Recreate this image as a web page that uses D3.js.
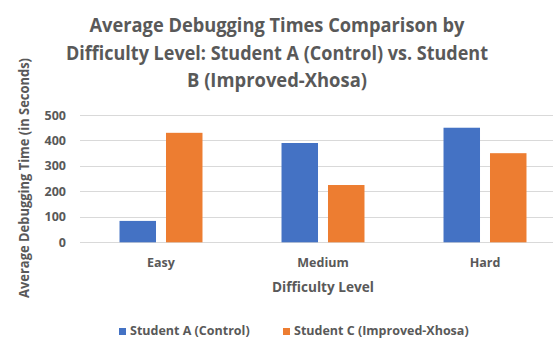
<!DOCTYPE html>
<html><head><meta charset="utf-8">
<script src="https://cdn.jsdelivr.net/npm/d3@7"></script>
<style>body{margin:0;background:#fff}svg{display:block}text{font-family:"Open Sans","Noto Sans",sans-serif;fill:#595959}</style>
</head><body>
<script>
const categories = ["Easy", "Medium", "Hard"];
const seriesNames = ["Student A (Control)", "Student C (Improved-Xhosa)"];
const studentA = [84, 390, 450];
const studentC = [430, 225, 350];
const yTicks = [0, 100, 200, 300, 400, 500];
const titleLines = ["Average Debugging Times Comparison by", "Difficulty Level: Student A (Control) vs. Student", "B (Improved-Xhosa)"];
const colors = ["#4472C4", "#ED7D31"];

const W = 553, H = 344;
const svg = d3.select("body").append("svg").attr("width", W).attr("height", H);
const x = d3.scaleBand().domain(categories).range([80, 566]);
const y = d3.scaleLinear().domain([0, 500]).range([242.3, 115]);
const inner = d3.scaleBand().domain([0, 1]).range([0, x.bandwidth()]).paddingInner(0.215).paddingOuter(0.85);

// gridlines
svg.append("g").selectAll("line").data(yTicks).join("line")
  .attr("x1", 80).attr("x2", 553).attr("y1", d => Math.round(y(d)) + 0.5).attr("y2", d => Math.round(y(d)) + 0.5)
  .attr("stroke", "#D9D9D9").attr("stroke-width", 1);

// y tick labels
svg.append("g").selectAll("text").data(yTicks).join("text")
  .attr("x", 66).attr("y", d => y(d) + 4.5).attr("text-anchor", "end")
  .attr("font-size", 12.5).attr("font-weight", "bold").text(d => d);

// bars
const data = categories.map((c, i) => ({c, vals: [studentA[i], studentC[i]]}));
const g = svg.append("g").selectAll("g").data(data).join("g").attr("transform", d => `translate(${x(d.c)},0)`);
g.selectAll("rect").data(d => d.vals.map((v, k) => ({v, k}))).join("rect")
  .attr("x", d => inner(d.k)).attr("width", inner.bandwidth())
  .attr("y", d => y(d.v)).attr("height", d => y(0) - y(d.v))
  .attr("fill", d => colors[d.k]);

// category labels
svg.append("g").selectAll("text").data(categories).join("text")
  .attr("x", d => x(d) + x.bandwidth() / 2).attr("y", 266.5).attr("text-anchor", "middle")
  .attr("font-size", 12.5).attr("font-weight", "bold").text(d => d);

// axis titles
svg.append("text").attr("x", 323).attr("y", 291.5).attr("text-anchor", "middle")
  .attr("font-size", 14.5).attr("font-weight", "bold").attr("textLength", 102).attr("lengthAdjust", "spacingAndGlyphs")
  .text("Difficulty Level");
svg.append("text").attr("transform", "translate(29,178) rotate(-90)").attr("text-anchor", "middle")
  .attr("font-size", 14).attr("font-weight", "bold").attr("textLength", 240).attr("lengthAdjust", "spacingAndGlyphs")
  .text("Average Debugging Time (in Seconds)");

// title
const titleLen = [375, 422, 180];
svg.append("g").selectAll("text").data(titleLines).join("text")
  .attr("x", 277).attr("y", (d, i) => 31.7 + i * 27.8).attr("text-anchor", "middle")
  .attr("font-size", 19).attr("font-weight", "bold")
  .attr("textLength", (d, i) => titleLen[i]).attr("lengthAdjust", "spacingAndGlyphs").text(d => d);

// legend
const legX = [119, 283];
const lg = svg.append("g").selectAll("g").data(seriesNames).join("g").attr("transform", (d, i) => `translate(${legX[i]},328)`);
lg.append("rect").attr("width", 7).attr("height", 7).attr("fill", (d, i) => colors[i]);
lg.append("text").attr("x", 11).attr("y", 7).attr("font-size", 12.5).attr("font-weight", "bold").text(d => d);
</script>
</body></html>
